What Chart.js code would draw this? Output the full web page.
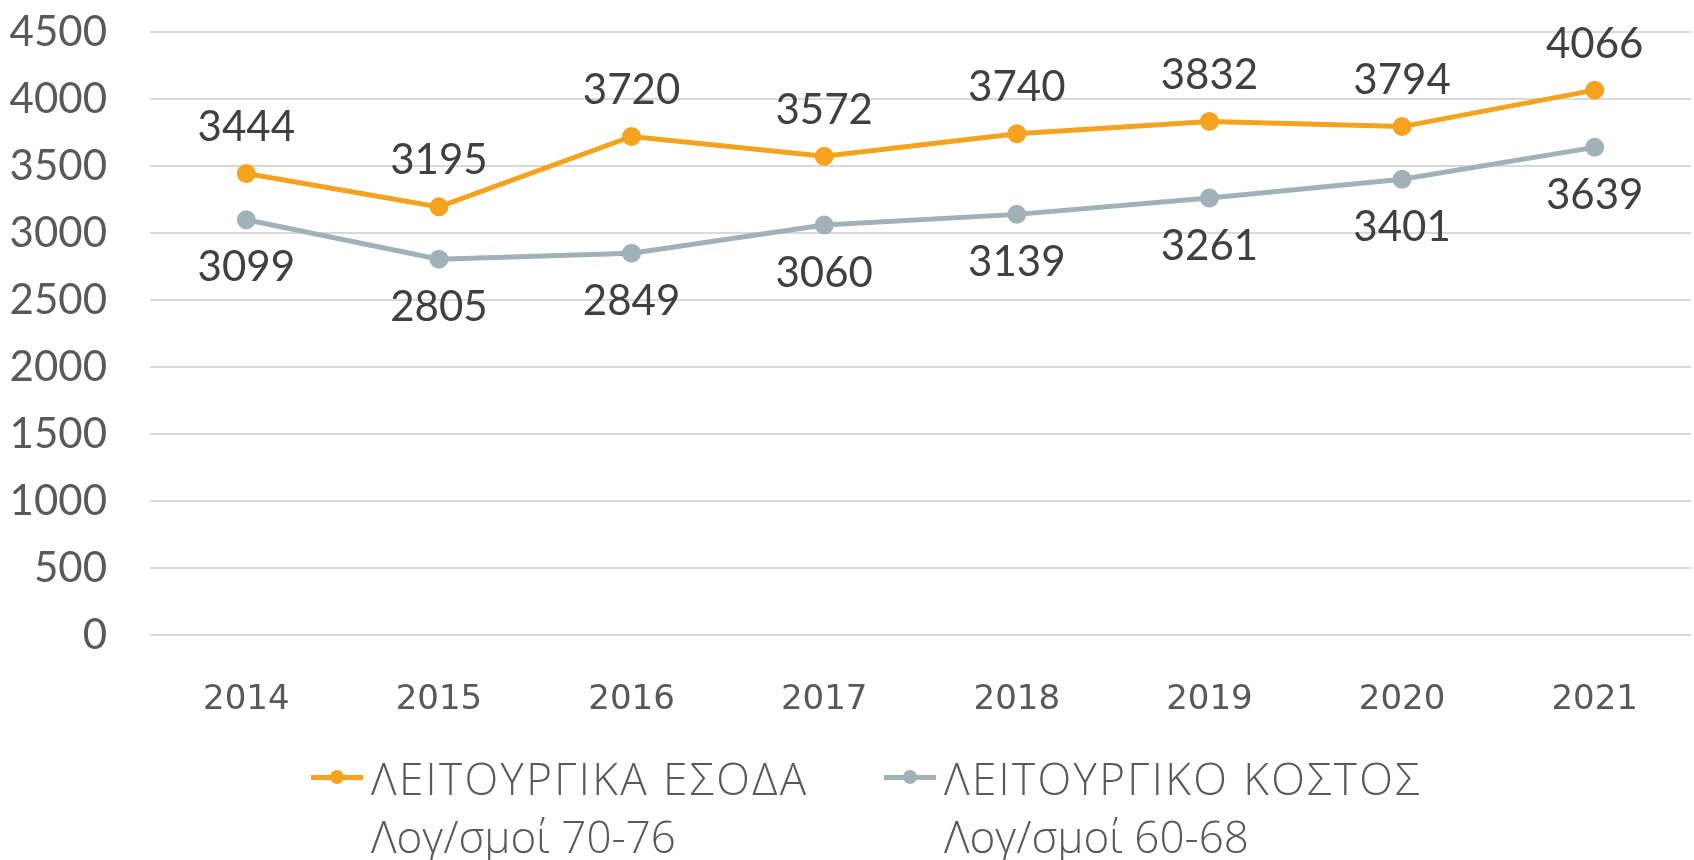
<!DOCTYPE html>
<html>
<head>
<meta charset="utf-8">
<script src="https://cdn.jsdelivr.net/npm/chart.js@4"></script>
<style>
  html, body { margin: 0; padding: 0; background: #fff; }
  #wrap { position: relative; width: 1694px; height: 860px; }
  #legend { position: absolute; top: 749px; left: 0; width: 1694px; font-family: "Open Sans", sans-serif; font-weight: 300; color: #595959; }
  .item { position: absolute; top: 0; }
  .mark { position: absolute; top: 26px; width: 52px; height: 5px; }
  .mark i { position: absolute; left: 19px; top: -5px; width: 14px; height: 14px; border-radius: 50%; }
  .txt { position: absolute; left: 60px; white-space: nowrap; font-size: 44px; line-height: 58px; }
  .txt b { font-weight: 300; letter-spacing: 2.4px; }
</style>
</head>
<body>
<div id="wrap">
  <canvas id="myChart" width="1694" height="860"></canvas>
  <div id="legend"></div>
</div>
<script>
const years = ['2014', '2015', '2016', '2017', '2018', '2019', '2020', '2021'];
const esoda = [3444, 3195, 3720, 3572, 3740, 3832, 3794, 4066];
const kostos = [3099, 2805, 2849, 3060, 3139, 3261, 3401, 3639];
const seriesNames = [['ΛΕΙΤΟΥΡΓΙΚΑ ΕΣΟΔΑ', 'Λογ/σμοί 70-76'], ['ΛΕΙΤΟΥΡΓΙΚΟ ΚΟΣΤΟΣ', 'Λογ/σμοί 60-68']];
const colors = ['#F5A31E', '#A0B2B8'];

// labels above orange, below grey
const valueLabels = {
    id: 'valueLabels',
    afterDatasetsDraw(chart) {
        const ctx = chart.ctx;
        ctx.save();
        ctx.font = '42px Lato';
        ctx.fillStyle = '#404040';
        ctx.textAlign = 'center';
        ctx.textBaseline = 'middle';
        chart.data.datasets.forEach(function (ds, i) {
            const meta = chart.getDatasetMeta(i);
            meta.data.forEach(function (pt, j) {
                const dy = i === 0 ? -46 : 48;
                ctx.fillText(String(ds.data[j]), pt.x, pt.y + dy);
            });
        });
        ctx.restore();
    }
};

var ctx = document.getElementById('myChart').getContext('2d');
var mychart = new Chart(ctx, {
    type: 'line',
    data: {
        labels: years,
        datasets: [{
            label: seriesNames[0].join(' '),
            data: esoda,
            borderColor: colors[0],
            backgroundColor: colors[0],
            borderWidth: 5,
            pointRadius: 7,
            pointHoverRadius: 7,
            tension: 0
        }, {
            label: seriesNames[1].join(' '),
            data: kostos,
            borderColor: colors[1],
            backgroundColor: colors[1],
            borderWidth: 5,
            pointRadius: 7,
            pointHoverRadius: 7,
            tension: 0
        }]
    },
    options: {
        responsive: false,
        animation: false,
        layout: { autoPadding: false, padding: { top: 32, right: 3, bottom: 130, left: 0 } },
        plugins: {
            legend: { display: false },
            tooltip: { enabled: false }
        },
        scales: {
            x: {
                offset: true,
                grid: { display: false, drawTicks: false },
                border: { display: false },
                ticks: {
                    font: { family: 'DejaVu Sans', size: 34 },
                    color: '#595959',
                    padding: 45
                },
                afterFit: function (scale) {
                    scale.height = 95;
                    scale.paddingLeft = 0;
                    scale.paddingRight = 0;
                }
            },
            y: {
                min: 0,
                max: 4500,
                ticks: {
                    stepSize: 500,
                    font: { family: 'Lato', size: 42 },
                    color: '#595959',
                    padding: 43,
                    callback: function (v) { return String(v); }
                },
                grid: { color: '#D9D9D9', lineWidth: 2, drawTicks: false },
                border: { display: false },
                afterFit: function (scale) {
                    scale.width = 150;
                    scale.paddingTop = 0;
                    scale.paddingBottom = 0;
                }
            }
        }
    },
    plugins: [valueLabels]
});

// html legend
var lg = document.getElementById('legend');
var lefts = [311, 884];
seriesNames.forEach(function (name, i) {
    var it = document.createElement('div');
    it.className = 'item';
    it.style.left = lefts[i] + 'px';
    it.innerHTML = '<div class="mark" style="background:' + colors[i] + '"><i style="background:' + colors[i] + '"></i></div>' +
        '<div class="txt"><b>' + name[0] + '</b><br>' + name[1] + '</div>';
    lg.appendChild(it);
});
</script>
</body>
</html>
